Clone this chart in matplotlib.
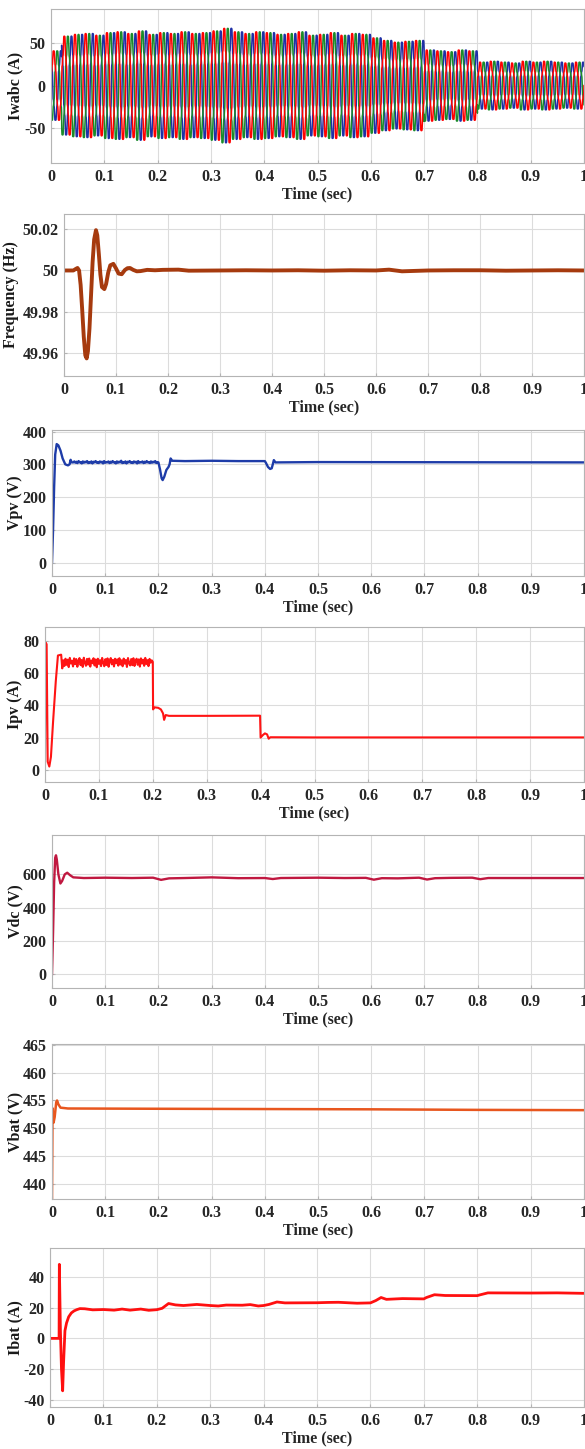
import numpy as np
import matplotlib
matplotlib.use("Agg")
import matplotlib.pyplot as plt

# ---- data ----
x_ticks = [0, 0.1, 0.2, 0.3, 0.4, 0.5, 0.6, 0.7, 0.8, 0.9, 1]
x_tick_labels = ["0", "0.1", "0.2", "0.3", "0.4", "0.5", "0.6", "0.7", "0.8", "0.9", "1"]

# Iwabc: three phase 50 Hz currents, peak amplitude of each 20 ms cycle
grid_freq = 50.0
iw_cycle_amps = [40,
                 57, 59, 60, 58, 61, 62, 60, 63, 59, 61, 60, 62, 60, 61, 63,
                 66, 62, 60, 62, 61, 59, 60, 62, 58, 59, 61, 58, 60, 59,
                 55, 52, 50, 51, 52,
                 41, 40, 39, 41, 40,
                 27, 28, 27, 26, 28, 27, 28, 27, 26, 27]
iw_harmonics = [(5, 0.09), (7, 0.06), (11, 0.04), (13, 0.03)]
iw_start_spike = [-92, 90, 8]          # red, green, blue at t=0
iw_colors = ["#ff0000", "#1a8a2a", "#1f2fa6"]

f_t = [0, 0.018, 0.023, 0.026, 0.029, 0.032, 0.035, 0.038, 0.041, 0.0436, 0.046,
       0.049, 0.052, 0.055, 0.058, 0.0615, 0.064, 0.067, 0.070, 0.073, 0.0776,
       0.081, 0.085, 0.089, 0.0949, 0.100, 0.105, 0.111, 0.117, 0.122, 0.127,
       0.133, 0.140, 0.147, 0.16, 0.175, 0.19, 0.22, 0.24, 0.30, 0.35, 0.40,
       0.45, 0.50, 0.55, 0.60, 0.625, 0.65, 0.70, 0.75, 0.80, 0.85, 0.90, 0.95, 1.0]
f_val = [50.0, 50.0, 50.0008, 50.0012, 50.0, 49.993, 49.981, 49.968, 49.959, 49.9575,
         49.961, 49.972, 49.988, 50.004, 50.015, 50.0195, 50.017, 50.008, 49.998,
         49.992, 49.991, 49.9935, 49.999, 50.0025, 50.0032, 50.001, 49.9985, 49.9982,
         50.0002, 50.0011, 50.0012, 50.0003, 49.9996, 49.9997, 50.0003, 50.0001,
         50.0003, 50.0004, 49.9999, 50.0, 50.0001, 50.0, 50.0001, 49.9999, 50.0001,
         50.0, 50.0004, 49.9996, 50.0, 50.0001, 50.0001, 49.9999, 50.0, 50.0001, 50.0]

vpv_t = [0, 0.002, 0.004, 0.006, 0.0088, 0.012, 0.016, 0.02, 0.025, 0.03, 0.033, 0.035, 0.037]
vpv_val = [0, 100, 230, 330, 362, 358, 342, 318, 300, 297, 300, 314, 306]
vpv_noise_t = [0.04 + 0.002 * i for i in range(80)]
vpv_noise = [306, 309, 305, 308, 304, 310, 306, 307, 303, 309, 305, 308, 306, 310,
             304, 307, 305, 309, 303, 308, 306, 310, 305, 307, 304, 309, 306, 308,
             303, 310, 305, 307, 306, 309, 304, 308, 305, 310, 306, 307, 303, 309,
             305, 308, 306, 311, 304, 307, 305, 309, 303, 308, 306, 310, 305, 307,
             304, 309, 306, 308, 303, 310, 305, 307, 306, 309, 304, 308, 305, 310,
             306, 307, 304, 309, 305, 308, 306, 310, 304, 307]
vpv_t2 = [0.2, 0.203, 0.206, 0.208, 0.211, 0.215, 0.219, 0.221, 0.223, 0.226, 0.25,
          0.3, 0.35, 0.4, 0.402, 0.406, 0.41, 0.413, 0.415, 0.417, 0.42, 0.5, 1.0]
vpv_val2 = [306, 285, 258, 252, 262, 283, 292, 300, 318, 311, 310,
            311, 310, 310, 305, 292, 286, 288, 300, 313, 306, 307, 306]

ipv_t = [0, 0.001, 0.003, 0.005, 0.008, 0.011, 0.015, 0.02, 0.024, 0.03, 0.032, 0.034]
ipv_val = [4, 79, 78, 5, 2, 8, 30, 55, 71, 71.5, 63, 68]
ipv_noise_t = [0.036 + 0.002 * i for i in range(81)]
ipv_noise = [64.5, 69.0, 65.2, 68.4, 63.8, 69.5, 66.0, 67.8, 64.2, 69.2, 65.6, 68.8,
             64.0, 67.5, 69.4, 65.0, 68.2, 63.9, 69.6, 66.4, 64.6, 68.9, 65.3, 69.1,
             64.1, 67.9, 66.2, 69.3, 64.8, 68.5, 63.7, 69.0, 65.8, 68.1, 64.4, 69.5,
             66.6, 64.3, 68.7, 65.1, 69.2, 64.0, 67.6, 69.4, 65.5, 68.3, 64.2, 69.0,
             66.1, 68.6, 64.7, 69.3, 65.4, 68.0, 64.3, 69.1, 65.9, 68.2, 63.9, 69.4,
             66.3, 64.8, 68.8, 65.0, 69.3, 64.5, 67.7, 69.0, 65.2, 68.6, 64.1, 69.2,
             66.0, 68.4, 64.6, 69.5, 65.7, 68.1, 64.4, 68.9, 66.5]
ipv_t2 = [0.198, 0.2, 0.2005, 0.203, 0.21, 0.215, 0.219, 0.221, 0.224, 0.23, 0.3,
          0.399, 0.4, 0.404, 0.408, 0.412, 0.415, 0.418, 0.5, 1.0]
ipv_val2 = [68, 67, 37.5, 38.8, 38.5, 37.5, 35, 31, 34, 33.5, 33.5,
            33.6, 20, 21.5, 22.6, 22, 19.3, 20.2, 20.1, 20.1]

vdc_t = [0, 0.002, 0.004, 0.006, 0.0075, 0.009, 0.012, 0.0158, 0.019, 0.024, 0.0286,
         0.034, 0.04, 0.06, 0.1, 0.15, 0.19, 0.205, 0.22, 0.25, 0.3, 0.35, 0.4, 0.415,
         0.43, 0.5, 0.55, 0.59, 0.605, 0.62, 0.65, 0.69, 0.705, 0.72, 0.75, 0.79,
         0.805, 0.82, 0.9, 1.0]
vdc_val = [0, 250, 550, 700, 715, 690, 600, 545, 560, 600, 610,
           595, 582, 578, 580, 578, 580, 567, 576, 578, 582, 577, 578, 572,
           578, 580, 578, 579, 568, 577, 576, 580, 569, 577, 579, 580,
           571, 578, 578, 578]

vbat_t = [0, 0.001, 0.003, 0.005, 0.008, 0.0095, 0.012, 0.016, 0.03, 0.2, 0.4, 0.6, 0.8, 1.0]
vbat_val = [437.3, 453.6, 451.0, 452.0, 454.7, 455.0, 454.3, 453.7, 453.55,
            453.5, 453.45, 453.4, 453.3, 453.25]

ibat_t = [0, 0.017, 0.0175, 0.0195, 0.0215, 0.0237, 0.0255, 0.028, 0.031, 0.035, 0.04,
          0.045, 0.05, 0.056, 0.065, 0.08, 0.1, 0.12, 0.135, 0.15, 0.17, 0.185, 0.2,
          0.21, 0.222, 0.235, 0.25, 0.275, 0.3, 0.315, 0.33, 0.36, 0.375, 0.39, 0.4,
          0.41, 0.425, 0.44, 0.5, 0.52, 0.54, 0.575, 0.6, 0.61, 0.62, 0.63, 0.66,
          0.7, 0.705, 0.72, 0.74, 0.8, 0.805, 0.82, 0.9, 0.95, 1.0]
ibat_val = [0, 0, 48, 5, -20, -34, -15, 5, 10, 14, 16.5,
            17.8, 18.6, 19.3, 19.2, 18.5, 18.7, 18.3, 19, 18.3, 19, 18.2, 18.6,
            19.5, 22.6, 21.7, 21.3, 22.0, 21.3, 21.0, 21.6, 21.5, 21.9, 21.0, 21.3,
            22, 23.6, 23.0, 23.1, 23.3, 23.4, 22.8, 23.0, 24.5, 26.5, 25.3, 25.8,
            25.6, 26.5, 28.3, 27.8, 27.7, 28.2, 29.5, 29.4, 29.5, 29.2]

# ---- figure ----
W, H = 585, 1449
fig = plt.figure(figsize=(W / 100, H / 100), dpi=100)
plt.rcParams['font.family'] = ['Liberation Serif', 'DejaVu Serif']
plt.rcParams['font.weight'] = 'bold'

# (left, top, bottom) in pixels, right edge shared
boxes = [(51, 9, 163), (64, 214, 376), (52, 430, 576), (45, 627, 782),
         (52, 835, 988), (52, 1044, 1199), (50, 1248, 1407)]
right = 584

def make_axes(i, ylim, yticks, yticklabels, ylabel, label_x=23):
    left, top, bottom = boxes[i]
    w = right - left
    h = bottom - top
    ax = fig.add_axes([left / W, 1 - bottom / H, w / W, h / H])
    ax.set_xlim(0, 1)
    ax.set_ylim(*ylim)
    ax.set_xticks(x_ticks)
    ax.set_xticklabels(x_tick_labels)
    ax.set_yticks(yticks)
    ax.set_yticklabels(yticklabels)
    ax.grid(True, color='#dcdcdc', linewidth=0.8)
    ax.set_axisbelow(True)
    for s in ax.spines.values():
        s.set_color('#b4b4b4')
        s.set_linewidth(0.8)
    ax.tick_params(direction='in', length=2.5, color='#b4b4b4', labelsize=11.5,
                   labelcolor='#262626', pad=4)
    for lab in ax.get_xticklabels() + ax.get_yticklabels():
        lab.set_fontweight('bold')
    ax.set_xlabel('Time (sec)', fontsize=11.5, fontweight='bold', color='#262626')
    ax.xaxis.set_label_coords(0.5, -23 / h)
    ax.set_ylabel(ylabel, fontsize=11.5, fontweight='bold', color='#1a1a1a')
    ax.yaxis.set_label_coords(label_x / W, 1 - (top + bottom) / 2 / H,
                              transform=fig.transFigure)
    return ax

# 1 Iwabc
ax = make_axes(0, (-91, 90), [-50, 0, 50], ["-50", "0", "50"], 'Iwabc (A)')
t = np.linspace(0, 1, 20001)
cycle_idx = np.minimum((t * grid_freq).astype(int), len(iw_cycle_amps) - 1)
amp = np.array(iw_cycle_amps, dtype=float)[cycle_idx]
for ph in [2, 1, 0]:
    shift = -ph * 2 * np.pi / 3
    wave = np.sin(2 * np.pi * grid_freq * t + shift)
    for n, r in iw_harmonics:
        wave = wave + r * np.sin(n * (2 * np.pi * grid_freq * t + shift))
    y = amp * wave
    y[0] = iw_start_spike[ph]
    ax.plot(t, y, color=iw_colors[ph], linewidth=1.1)

# 2 Frequency
ax = make_axes(1, (49.949, 50.0273), [49.96, 49.98, 50, 50.02],
               ["49.96", "49.98", "50", "50.02"], 'Frequency (Hz)', label_x=19)
ax.plot(f_t, f_val, color='#a63a0e', linewidth=2.8, solid_capstyle='round',
        solid_joinstyle='round')

# 3 Vpv
ax = make_axes(2, (-41, 405), [0, 100, 200, 300, 400],
               ["0", "100", "200", "300", "400"], 'Vpv (V)')
ax.plot(vpv_t + vpv_noise_t + vpv_t2, vpv_val + vpv_noise + vpv_val2,
        color='#1e3ca8', linewidth=1.7)

# 4 Ipv
ax = make_axes(3, (-7.6, 88.7), [0, 20, 40, 60, 80],
               ["0", "20", "40", "60", "80"], 'Ipv (A)')
ax.plot(ipv_t + ipv_noise_t + ipv_t2, ipv_val + ipv_noise + ipv_val2,
        color='#ff1414', linewidth=1.5)

# 5 Vdc
ax = make_axes(4, (-84, 837), [0, 200, 400, 600],
               ["0", "200", "400", "600"], 'Vdc (V)')
ax.plot(vdc_t, vdc_val, color='#c01840', linewidth=1.7)

# 6 Vbat
ax = make_axes(5, (437.2, 465.2), [440, 445, 450, 455, 460, 465],
               ["440", "445", "450", "455", "460", "465"], 'Vbat (V)')
ax.plot(vbat_t, vbat_val, color='#e8561e', linewidth=1.8)

# 7 Ibat
ax = make_axes(6, (-44.5, 58.6), [-40, -20, 0, 20, 40],
               ["-40", "-20", "0", "20", "40"], 'Ibat (A)')
ax.plot(ibat_t, ibat_val, color='#ff1010', linewidth=2.0)

fig.savefig('out.png', dpi=100)
